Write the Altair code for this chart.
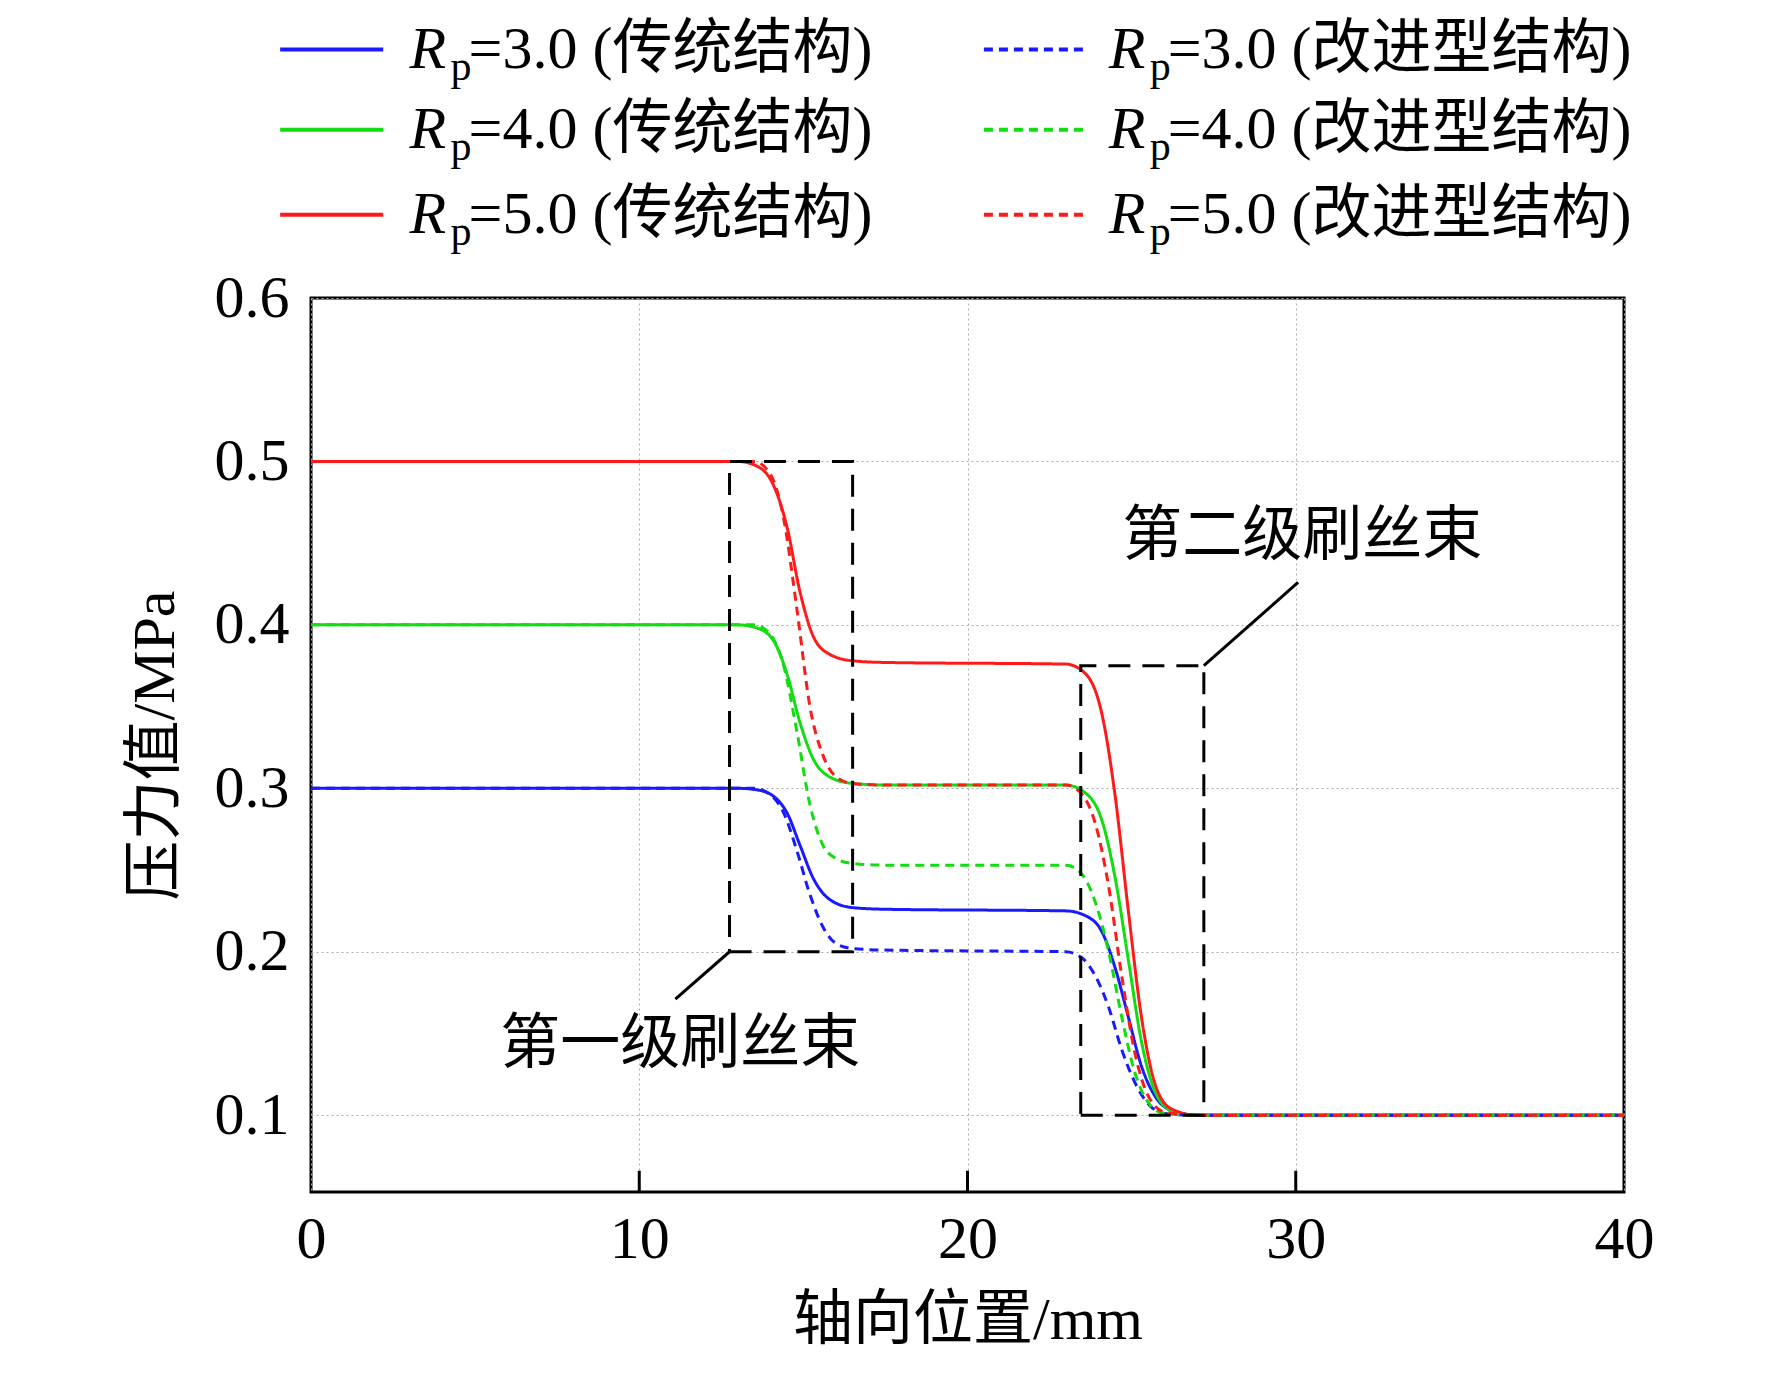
import altair as alt
import pandas as pd

FONT = "Liberation Serif, Noto Sans CJK SC"

x_a = [0, 13, 13.6, 14.1, 14.5, 14.9, 15.3, 15.8, 16.5, 17.5, 23, 23.6, 24.1, 24.5, 24.9, 25.3, 25.7, 26.2, 27, 40]
x_b = [0, 13.5, 14, 14.4, 14.8, 15.2, 15.6, 16, 16.5, 17.5, 23, 23.5, 23.9, 24.3, 24.7, 25.1, 25.5, 26, 27, 40]

blue_solid = [0.3, 0.3, 0.299, 0.295, 0.285, 0.265, 0.245, 0.232, 0.227, 0.226, 0.225, 0.222, 0.212, 0.19, 0.16, 0.13, 0.112, 0.103, 0.1, 0.1]
blue_dash = [0.3, 0.3, 0.296, 0.285, 0.262, 0.235, 0.215, 0.205, 0.202, 0.201, 0.2, 0.196, 0.185, 0.166, 0.14, 0.12, 0.107, 0.101, 0.1, 0.1]
green_solid = [0.4, 0.4, 0.398, 0.39, 0.37, 0.34, 0.318, 0.307, 0.303, 0.302, 0.302, 0.297, 0.28, 0.245, 0.195, 0.145, 0.115, 0.103, 0.1, 0.1]
green_dash = [0.4, 0.4, 0.394, 0.375, 0.335, 0.29, 0.265, 0.257, 0.254, 0.253, 0.253, 0.247, 0.23, 0.2, 0.16, 0.126, 0.108, 0.101, 0.1, 0.1]
red_solid = [0.5, 0.5, 0.497, 0.485, 0.46, 0.42, 0.393, 0.382, 0.378, 0.377, 0.376, 0.37, 0.345, 0.295, 0.225, 0.16, 0.12, 0.104, 0.1, 0.1]
red_dash = [0.5, 0.5, 0.492, 0.465, 0.41, 0.35, 0.32, 0.307, 0.303, 0.302, 0.302, 0.296, 0.278, 0.24, 0.185, 0.138, 0.112, 0.102, 0.1, 0.1]

series = [
    ("s1", x_a, blue_solid, "#1a1aff", False, "=3.0 (传统结构)", 0.752, 0),
    ("s2", x_a, green_solid, "#11dd11", False, "=4.0 (传统结构)", 0.703, 0),
    ("s3", x_a, red_solid, "#ff1a1a", False, "=5.0 (传统结构)", 0.651, 0),
    ("d1", x_b, blue_dash, "#1a1aff", True, "=3.0 (改进型结构)", 0.752, 1),
    ("d2", x_b, green_dash, "#11dd11", True, "=4.0 (改进型结构)", 0.703, 1),
    ("d3", x_b, red_dash, "#ff1a1a", True, "=5.0 (改进型结构)", 0.651, 1),
]

X = alt.Scale(domain=[0, 40], nice=False)
Y = alt.Scale(domain=[0.053, 0.6], nice=False)

layers = []
for name, xs, ys, col, dash, label, ly, c in series:
    df = pd.DataFrame({"x": xs, "y": ys})
    layers.append(alt.Chart(df).mark_line(
        color=col, strokeWidth=3, interpolate="monotone",
        strokeDash=[9, 6] if dash else [1, 0]).encode(
        x=alt.X("x:Q", scale=X), y=alt.Y("y:Q", scale=Y)))
    lx0, lx1, rx = (-0.94, 2.2, 3.0) if c == 0 else (20.5, 23.6, 24.3)
    seg = pd.DataFrame({"x": [lx0, lx1], "y": [ly, ly]})
    layers.append(alt.Chart(seg).mark_line(
        color=col, strokeWidth=4, strokeDash=[9, 6] if dash else [1, 0]).encode(
        x=alt.X("x:Q", scale=X), y=alt.Y("y:Q", scale=Y)))
    for tx, t, fs, st, dy in [(rx, "R", 60, "italic", 0), (rx + 1.25, "p", 42, "normal", 17), (rx + 1.8, label, 60, "normal", 0)]:
        layers.append(alt.Chart(pd.DataFrame({"x": [tx], "y": [ly], "t": [t]})).mark_text(
            font=FONT, fontSize=fs, fontStyle=st, align="left", baseline="middle", dy=dy, color="black").encode(
            x=alt.X("x:Q", scale=X), y=alt.Y("y:Q", scale=Y), text="t:N"))

# dashed annotation boxes and leader lines
box_x = [12.75, 16.5, 16.5, 12.75, 12.75]
box_y = [0.2, 0.2, 0.5, 0.5, 0.2]
box2_x = [23.45, 27.2, 27.2, 23.45, 23.45]
box2_y = [0.1, 0.1, 0.375, 0.375, 0.1]
for bx, by in [(box_x, box_y), (box2_x, box2_y)]:
    df = pd.DataFrame({"x": bx, "y": by, "o": range(len(bx))})
    layers.append(alt.Chart(df).mark_line(color="black", strokeWidth=3, strokeDash=[22, 12]).encode(
        x=alt.X("x:Q", scale=X), y=alt.Y("y:Q", scale=Y), order="o:Q"))
lead = pd.DataFrame({"x": [12.75, 11.1], "y": [0.2, 0.171]})
lead2 = pd.DataFrame({"x": [27.2, 30.07], "y": [0.375, 0.426]})
for df in [lead, lead2]:
    layers.append(alt.Chart(df).mark_line(color="black", strokeWidth=3).encode(
        x=alt.X("x:Q", scale=X), y=alt.Y("y:Q", scale=Y)))
ann = pd.DataFrame({"x": [11.25, 30.2], "y": [0.143, 0.454], "t": ["第一级刷丝束", "第二级刷丝束"]})
layers.append(alt.Chart(ann).mark_text(font=FONT, fontSize=60, align="center", baseline="middle", color="black").encode(
    x=alt.X("x:Q", scale=X), y=alt.Y("y:Q", scale=Y), text="t:N"))

# inward ticks on bottom axis
ticks = pd.DataFrame({"x": [10, 20, 30], "y": [0.053] * 3, "y2": [0.066] * 3})
layers.append(alt.Chart(ticks).mark_rule(color="black", strokeWidth=3).encode(
    x=alt.X("x:Q", scale=X), y=alt.Y("y:Q", scale=Y), y2="y2:Q"))

base = alt.Chart(pd.DataFrame({"x": [0], "y": [0.1]})).mark_point(opacity=0).encode(
    x=alt.X("x:Q", scale=X, title="轴向位置/mm",
            axis=alt.Axis(values=[0, 10, 20, 30, 40], format="d", grid=True, gridDash=[2, 3], gridColor="#aaaaaa",
                          ticks=False, domain=False, labelFontSize=60, labelFont=FONT, labelPadding=18,
                          labelFlush=False, labelColor="black", titleColor="black",
                          titleFontSize=60, titleFont=FONT, titleFontWeight="normal", titlePadding=22)),
    y=alt.Y("y:Q", scale=Y, title="压力值/MPa",
            axis=alt.Axis(values=[0.1, 0.2, 0.3, 0.4, 0.5, 0.6], format=".1f", grid=True, gridDash=[2, 3],
                          gridColor="#aaaaaa", ticks=False, domain=False, labelFontSize=60, labelFont=FONT,
                          labelFlush=False, labelColor="black", titleColor="black",
                          labelPadding=22, titleFontSize=60, titleFont=FONT, titleFontWeight="normal",
                          titlePadding=28)))

chart = alt.layer(base, *layers).properties(
    width=1313, height=894, autosize=alt.AutoSizeParams(type="none"),
    padding={"left": 303, "top": 290, "right": 140, "bottom": 170},
    background="white"
).configure_view(stroke="black", strokeWidth=3)

chart.save("out.html", embed_options={"renderer": "svg", "actions": False})
